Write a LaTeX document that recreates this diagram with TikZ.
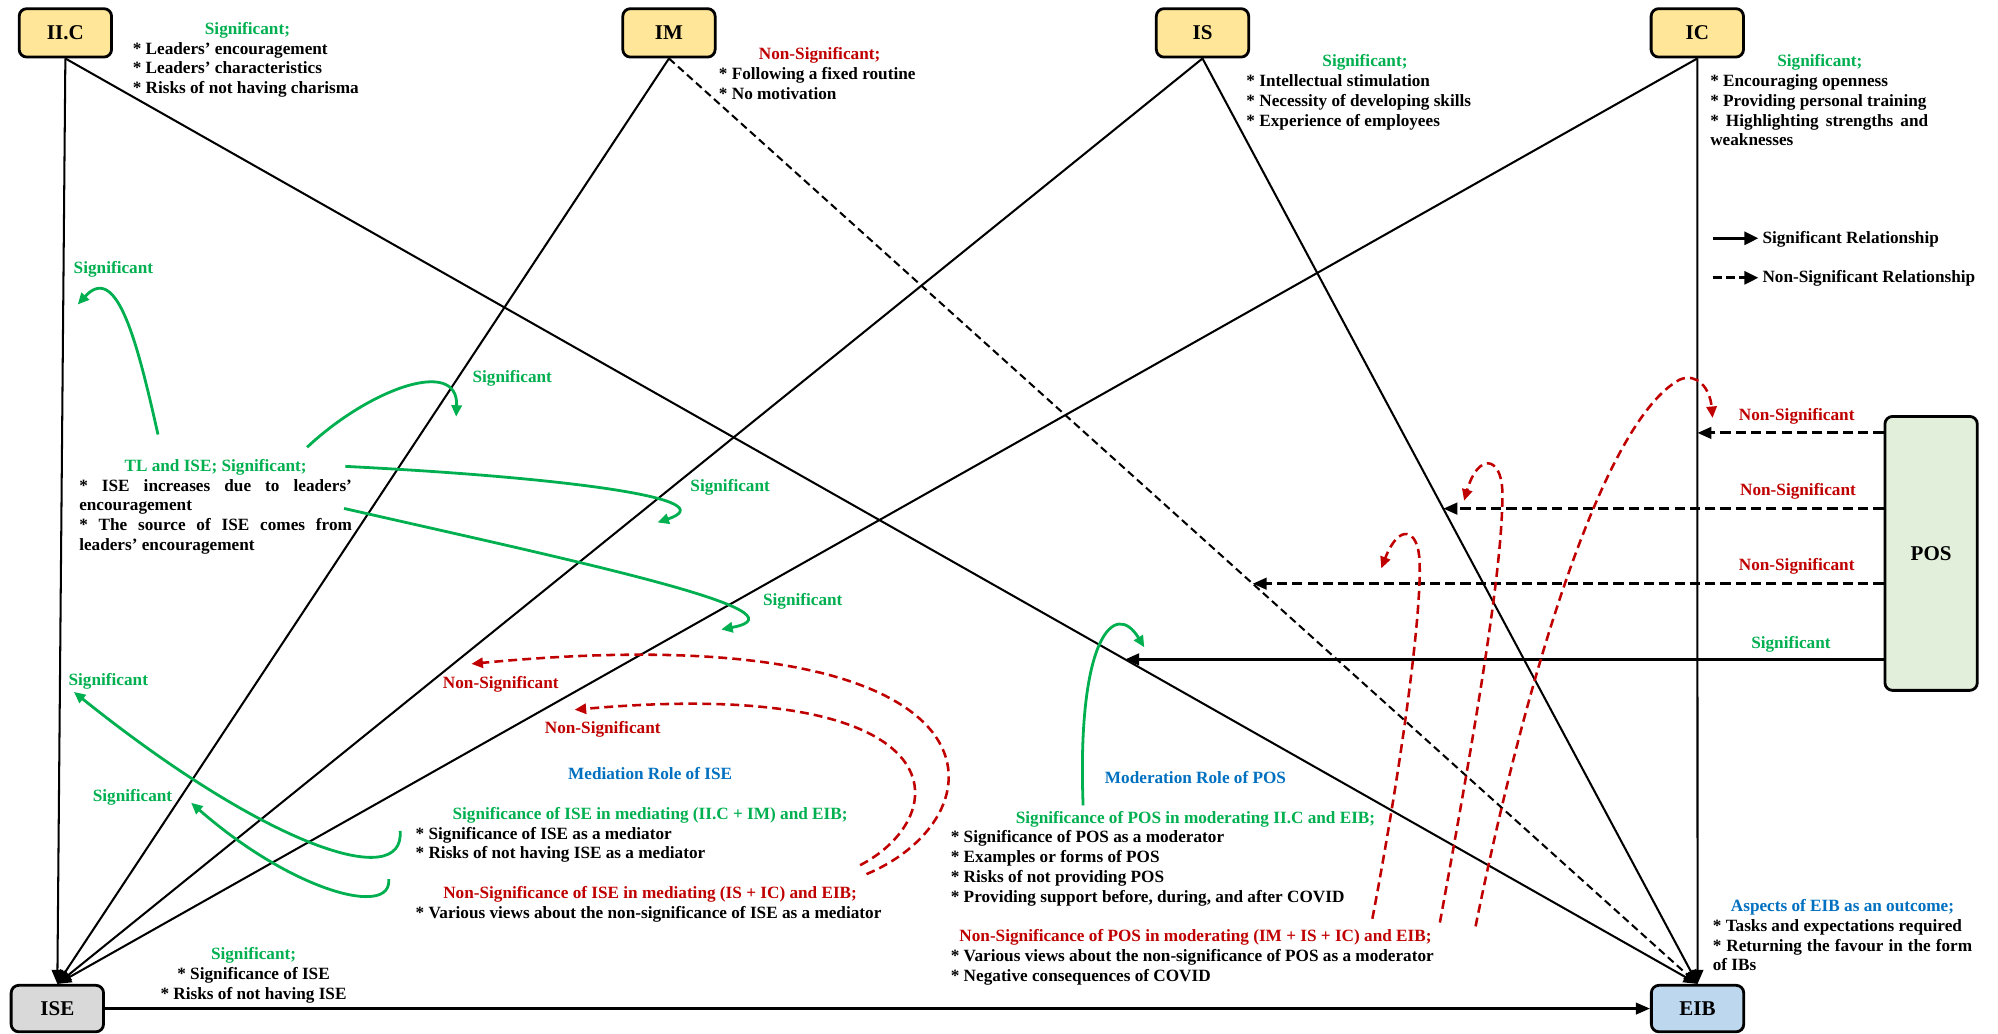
\documentclass[tikz,border=0pt]{standalone}
\usepackage{fontspec}
\setmainfont{Liberation Serif}
\usetikzlibrary{arrows.meta,calc}
\definecolor{sig}{HTML}{00B050}
\definecolor{nsig}{HTML}{C00000}
\definecolor{rolec}{HTML}{0070C0}
\definecolor{yfill}{HTML}{FFE699}
\definecolor{gfill}{HTML}{D9D9D9}
\definecolor{bfill}{HTML}{BDD7EE}
\definecolor{pfill}{HTML}{E2EFDA}
\newcommand{\CLine}[2]{\hbox to #1{\hfil #2\hfil}}
\newcommand{\JLine}[2]{\hbox to #1{#2}}
\newcommand{\LLine}[1]{\hbox{#1}}
\tikzset{
  mainbox/.style={draw, line width=2.2pt, rounded corners=6pt, minimum width=72.5pt,
    minimum height=38pt, inner sep=0pt, font=\fontsize{16.5}{18}\selectfont\bfseries},
  blocktxt/.style={inner sep=0pt, font=\fontsize{13.5}{15.5}\selectfont\bfseries, anchor=base west},
  edgelab/.style={inner sep=0pt, font=\fontsize{13.5}{15.5}\selectfont\bfseries, anchor=base},
  sigline/.style={line width=1.6pt, -{Triangle[length=11pt,width=9pt]}},
  nsigline/.style={sigline, dash pattern=on 6pt off 3.5pt},
  posline/.style={line width=2.3pt, -{Triangle[length=11pt,width=9pt]}},
  posdash/.style={posline, dash pattern=on 8pt off 4pt},
  legsolid/.style={line width=2.6pt, -{Triangle[length=11pt,width=10pt]}},
  legdash/.style={legsolid, dash pattern=on 7pt off 3.5pt},
  gcurve/.style={draw=sig, line width=2.2pt, -{Triangle[length=9pt,width=8pt]}},
  rcurve/.style={draw=nsig, line width=2pt, dash pattern=on 7pt off 4pt, -{Triangle[length=9pt,width=8pt]}},
}
\begin{document}
\begin{tikzpicture}[x=1pt,y=-1pt]
\useasboundingbox (0,0) rectangle (1568,811);
\fill[white] (0,0) rectangle (1568,811);

% boxes
\node[mainbox, fill=yfill] (IIC) at (51.3,25.8) {II.C};
\node[mainbox, fill=yfill] (IM) at (525,25.8) {IM};
\node[mainbox, fill=yfill] (IS) at (943.7,25.8) {IS};
\node[mainbox, fill=yfill] (IC) at (1332,25.8) {IC};
\node[mainbox, fill=gfill, minimum height=36.5pt] (ISE) at (45,791.5) {ISE};
\node[mainbox, fill=bfill, minimum height=36.5pt] (EIB) at (1332.2,791.5) {EIB};
\node[mainbox, fill=pfill, minimum height=215pt] (POS) at (1515.5,434.3) {POS};

% main relations
\draw[sigline] (IIC.south) -- (ISE.north);
\draw[sigline] (IIC.south) -- (EIB.north);
\draw[sigline] (IM.south) -- (ISE.north);
\draw[nsigline] (IM.south) -- (EIB.north);
\draw[sigline] (IS.south) -- (ISE.north);
\draw[sigline] (IS.south) -- (EIB.north);
\draw[sigline] (IC.south) -- (ISE.north);
\draw[sigline] (IC.south) -- (EIB.north);
\draw[sigline, line width=1.8pt] (ISE.east) -- (EIB.west);

% moderation arrows from POS
\coordinate (h1) at ($(IC.south)!0.4046!(EIB.north)$);
\coordinate (h2) at ($(IS.south)!0.4864!(EIB.north)$);
\coordinate (h3) at ($(IM.south)!0.5675!(EIB.north)$);
\coordinate (h4) at ($(IIC.south)!0.6493!(EIB.north)$);
\draw[posdash] (POS.west |- h1) -- (h1);
\draw[posdash] (POS.west |- h2) -- (h2);
\draw[posdash] (POS.west |- h3) -- (h3);
\draw[posline] (POS.west |- h4) -- (h4);

% legend
\coordinate (lga) at (1344,187);
\coordinate (lgb) at (1380,187);
\coordinate (lgc) at (1344,218);
\coordinate (lgd) at (1380,218);
\draw[legsolid] (lga) -- (lgb);
\draw[legdash] (lgc) -- (lgd);
\node[blocktxt] (lgt1) at (1383,191) {Significant Relationship};
\node[blocktxt] (lgt2) at (1383,222) {Non-Significant Relationship};

% text blocks
\node[blocktxt] (tIIC) at (104,27) {\vtop{%
  \CLine{180pt}{\color{sig}Significant;}
  \LLine{* Leaders’ encouragement}
  \LLine{* Leaders’ characteristics}
  \LLine{* Risks of not having charisma}}};
\node[blocktxt] (tIM) at (564,47) {\vtop{%
  \CLine{158pt}{\color{nsig}Non-Significant;}
  \LLine{* Following a fixed routine}
  \LLine{* No motivation}}};
\node[blocktxt] (tIS) at (978,52.5) {\vtop{%
  \CLine{186pt}{\color{sig}Significant;}
  \LLine{* Intellectual stimulation}
  \LLine{* Necessity of developing skills}
  \LLine{* Experience of employees}}};
\node[blocktxt] (tIC) at (1342,52.5) {\vtop{%
  \CLine{172pt}{\color{sig}Significant;}
  \LLine{* Encouraging openness}
  \LLine{* Providing personal training}
  \JLine{171pt}{* Highlighting strengths and}
  \LLine{weaknesses}}};
\node[blocktxt] (tTL) at (62,370) {\vtop{%
  \CLine{214pt}{\color{sig}TL and ISE; Significant;}
  \JLine{214pt}{* ISE increases due to leaders’}
  \LLine{encouragement}
  \JLine{214pt}{* The source of ISE comes from}
  \LLine{leaders’ encouragement}}};
\node[blocktxt] (tMED) at (326,612) {\vtop{%
  \CLine{368pt}{\color{rolec}Mediation Role of ISE}
  \LLine{}
  \CLine{368pt}{\color{sig}Significance of ISE in mediating (II.C + IM) and EIB;}
  \LLine{* Significance of ISE as a mediator}
  \LLine{* Risks of not having ISE as a mediator}
  \LLine{}
  \CLine{368pt}{\color{nsig}Non-Significance of ISE in mediating (IS + IC) and EIB;}
  \LLine{* Various views about the non-significance of ISE as a mediator}}};
\node[blocktxt] (tMOD) at (746,615) {\vtop{%
  \CLine{384pt}{\color{rolec}Moderation Role of POS}
  \LLine{}
  \CLine{384pt}{\color{sig}Significance of POS in moderating II.C and EIB;}
  \LLine{* Significance of POS as a moderator}
  \LLine{* Examples or forms of POS}
  \LLine{* Risks of not providing POS}
  \LLine{* Providing support before, during, and after COVID}
  \LLine{}
  \CLine{384pt}{\color{nsig}Non-Significance of POS in moderating (IM + IS + IC) and EIB;}
  \LLine{* Various views about the non-significance of POS as a moderator}
  \LLine{* Negative consequences of COVID}}};
\node[blocktxt] (tEIB) at (1344,715.5) {\vtop{%
  \CLine{203.5pt}{\color{rolec}Aspects of EIB as an outcome;}
  \LLine{* Tasks and expectations required}
  \JLine{203.5pt}{* Returning the favour in the form}
  \LLine{of IBs}}};
\node[edgelab] (tISE) at (199,753) {\vtop{%
  \CLine{170pt}{\color{sig}Significant;}
  \CLine{170pt}{* Significance of ISE}
  \CLine{170pt}{* Risks of not having ISE}}};

% curved annotation arrows
\draw[gcurve] (124,341) .. controls (108,270) and (92,205) .. (61,239);
\draw[gcurve] (241,351) .. controls (290,305) and (360,280) .. (358,327);
\draw[gcurve] (271,366) .. controls (450,375) and (570,392) .. (516,410);
\draw[gcurve] (270,399) .. controls (450,440) and (640,480) .. (566,494);
\draw[gcurve] (314,652) .. controls (318,700) and (210,665) .. (58,543);
\draw[gcurve] (305,690) .. controls (308,720) and (230,700) .. (150,630);
\draw[gcurve] (850,632) .. controls (845,500) and (875,470) .. (898,508);
\draw[rcurve] (680,686) .. controls (790,640) and (800,480) .. (370,521);
\draw[rcurve] (675,679) .. controls (750,640) and (755,530) .. (451,557);
\draw[rcurve] (1077,721) .. controls (1100,600) and (1116,480) .. (1114,440)
  .. controls (1113,415) and (1098,410) .. (1084,446);
\draw[rcurve] (1130,724) .. controls (1160,560) and (1180,440) .. (1179,385)
  .. controls (1178,358) and (1160,355) .. (1149,393);
\draw[rcurve] (1158,727) .. controls (1200,520) and (1260,330) .. (1318,298)
  .. controls (1332,292) and (1342,305) .. (1344,328);

% labels
\node[edgelab, text=sig] (l1) at (89,215) {Significant};
\node[edgelab, text=sig] (l2) at (402,300) {Significant};
\node[edgelab, text=sig] (l3) at (573,386) {Significant};
\node[edgelab, text=sig] (l4) at (630,475) {Significant};
\node[edgelab, text=sig] (l5) at (85,538) {Significant};
\node[edgelab, text=sig] (l6) at (104,629) {Significant};
\node[edgelab, text=nsig] (l7) at (393,540) {Non-Significant};
\node[edgelab, text=nsig] (l8) at (473,575.5) {Non-Significant};
\node[edgelab, text=nsig] (l9) at (1410,330) {Non-Significant};
\node[edgelab, text=nsig] (l10) at (1411,389) {Non-Significant};
\node[edgelab, text=nsig] (l11) at (1410,447.5) {Non-Significant};
\node[edgelab, text=sig] (l12) at (1405.5,509) {Significant};
\end{tikzpicture}
\end{document}
